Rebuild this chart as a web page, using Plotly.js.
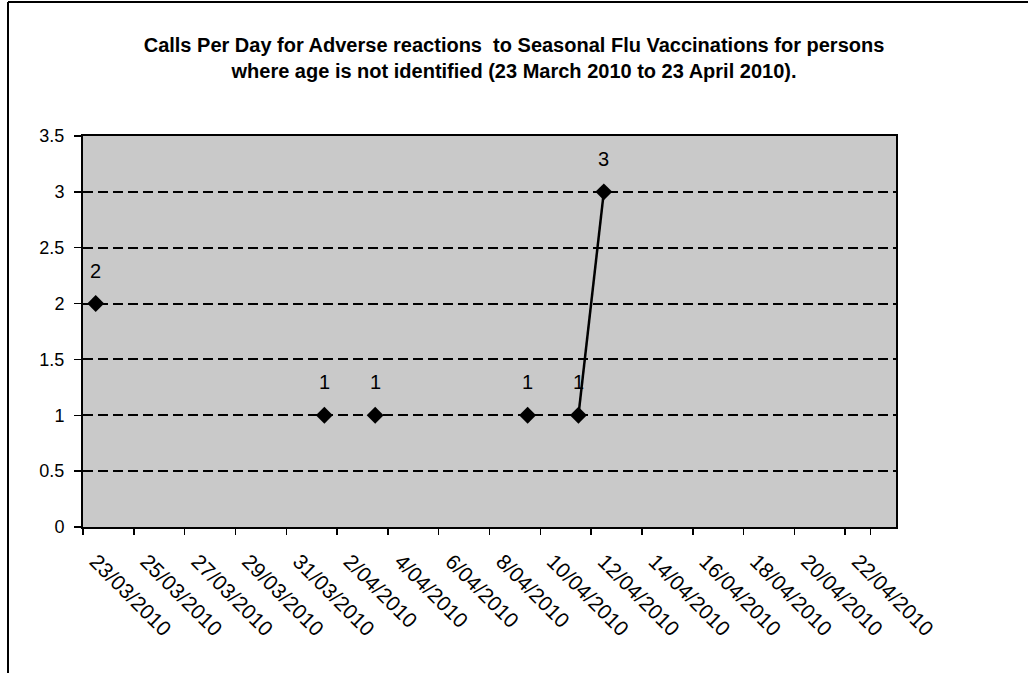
<!DOCTYPE html>
<html>
<head>
<meta charset="utf-8">
<script src="https://cdn.plot.ly/plotly-3.0.1.min.js"></script>
<style>html,body{margin:0;padding:0;background:#fff;}#chart{width:1028px;height:673px;}</style>
</head>
<body>
<div id="chart"></div>
<script>
const dates = [
  "23/03/2010","24/03/2010","25/03/2010","26/03/2010","27/03/2010","28/03/2010","29/03/2010","30/03/2010",
  "31/03/2010","1/04/2010","2/04/2010","3/04/2010","4/04/2010","5/04/2010","6/04/2010","7/04/2010",
  "8/04/2010","9/04/2010","10/04/2010","11/04/2010","12/04/2010","13/04/2010","14/04/2010","15/04/2010",
  "16/04/2010","17/04/2010","18/04/2010","19/04/2010","20/04/2010","21/04/2010","22/04/2010","23/04/2010"
];
const calls = [
  2, null, null, null, null, null, null, null,
  null, 1, null, 1, null, null, null, null,
  null, 1, null, 1, 3, null, null, null,
  null, null, null, null, null, null, null, null
];
const tickDates = dates.filter((d, i) => i % 2 === 0);
const titleText = "Calls Per Day for Adverse reactions  to Seasonal Flu Vaccinations for persons<br>where age is not identified (23 March 2010 to 23 April 2010).";

const FONT = "Liberation Sans, Arial, sans-serif";

const trace = {
  x: dates,
  y: calls,
  type: "scatter",
  mode: "lines+markers",
  connectgaps: false,
  line: {color: "#000", width: 2.5},
  marker: {symbol: "diamond", size: 13, color: "#000"},
  cliponaxis: false,
  hoverinfo: "skip"
};

const labels = [];
calls.forEach((v, i) => {
  if (v !== null) {
    labels.push({
      x: dates[i], y: v, xref: "x", yref: "y",
      text: String(v), showarrow: false, yshift: 33,
      font: {family: FONT, size: 20, color: "#000"}
    });
  }
});

const layout = {
  width: 1028, height: 673,
  margin: {l: 83, r: 132, t: 136, b: 146},
  paper_bgcolor: "#fff",
  plot_bgcolor: "#c9c9c9",
  showlegend: false,
  font: {family: FONT, color: "#000"},
  title: {
    text: titleText,
    font: {family: FONT, size: 20, color: "#000", weight: "bold"},
    x: 0.5, xref: "container", xanchor: "center",
    y: 1 - 52 / 673, yref: "container", yanchor: "top"
  },
  xaxis: {
    type: "category",
    categoryorder: "array",
    categoryarray: dates,
    range: [-0.5, dates.length - 0.5],
    tickmode: "array",
    tickvals: tickDates,
    ticktext: tickDates,
    tickangle: 45,
    tickson: "boundaries",
    ticks: "outside",
    ticklen: 6,
    tickcolor: "#000",
    tickwidth: 1.5,
    ticklabelstandoff: 12,
    tickfont: {size: 21, color: "#000"},
    showgrid: false,
    showline: true, linecolor: "#000", linewidth: 2,
    mirror: true,
    zeroline: false,
    fixedrange: true
  },
  yaxis: {
    range: [0, 3.5],
    dtick: 0.5,
    tick0: 0,
    ticks: "outside",
    ticklen: 7,
    tickcolor: "#000",
    tickwidth: 1.5,
    ticklabelstandoff: 6,
    tickfont: {size: 18, color: "#000"},
    showgrid: true,
    gridcolor: "#000",
    griddash: "10px,5px",
    gridwidth: 2,
    showline: true, linecolor: "#000", linewidth: 2,
    mirror: true,
    zeroline: false,
    fixedrange: true
  },
  annotations: labels,
  shapes: [
    {type: "line", xref: "paper", yref: "paper", x0: (8 - 83) / 813, x1: (8 - 83) / 813, y0: -146 / 391, y1: 1 + 134 / 391, line: {color: "#000", width: 2}},
    {type: "line", xref: "paper", yref: "paper", x0: (8 - 83) / 813, x1: (1028 - 83) / 813, y0: 1 + 134 / 391, y1: 1 + 134 / 391, line: {color: "#000", width: 2}}
  ]
};

Plotly.newPlot("chart", [trace], layout, {displayModeBar: false, staticPlot: true});
</script>
</body>
</html>
